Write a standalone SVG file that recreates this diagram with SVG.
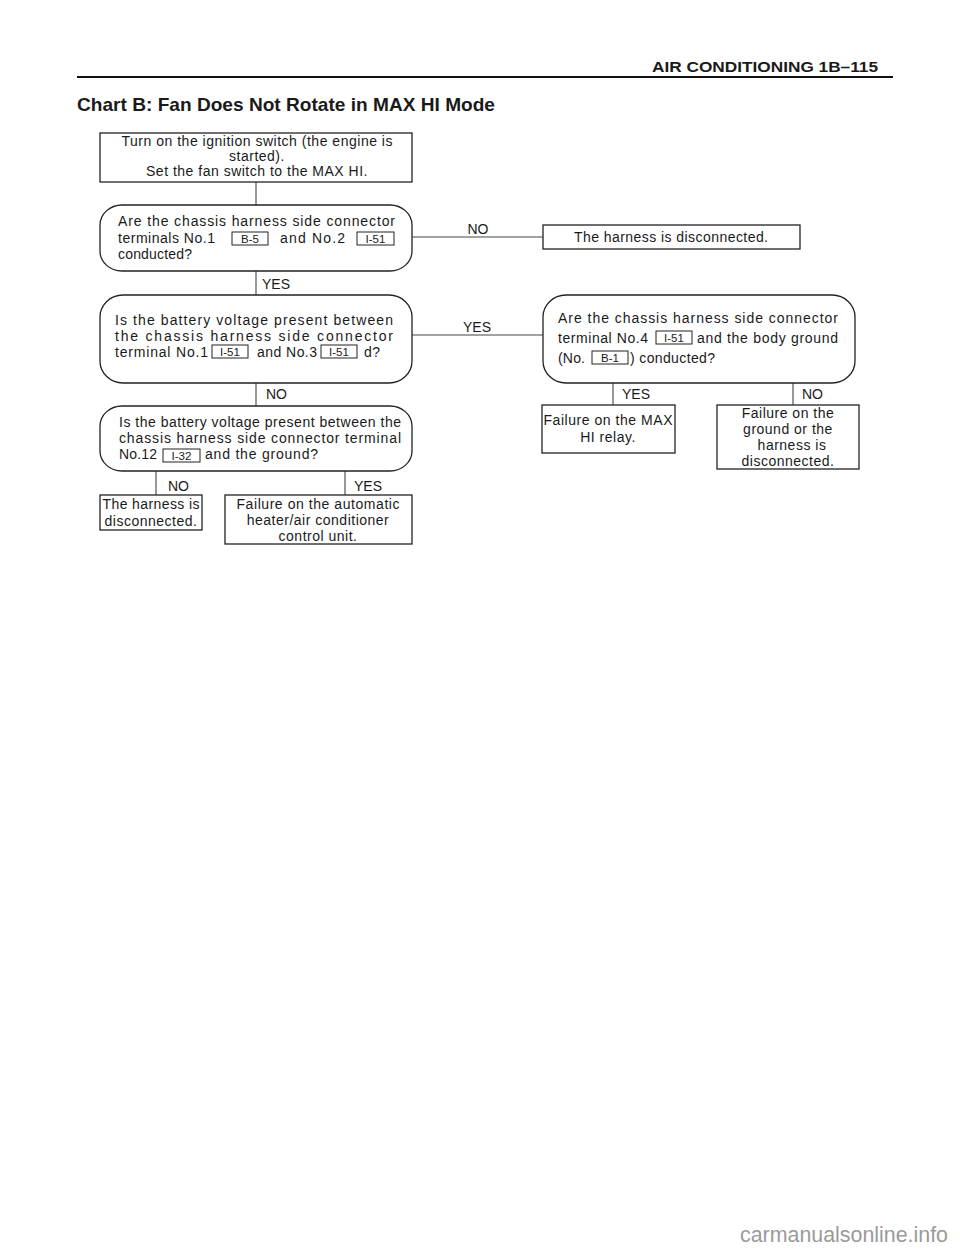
<svg xmlns="http://www.w3.org/2000/svg" width="960" height="1250" viewBox="0 0 960 1250">
<style>
text{font-family:"Liberation Sans",Arial,sans-serif;fill:#1a1a1a}
.t{font-size:14px}
.ls{letter-spacing:0.5px}
.c{text-anchor:middle}
.lbl{font-size:14px}
.k{font-size:11.5px;text-anchor:middle}
.node{fill:#fff;stroke:#222;stroke-width:1.3}
.kb{fill:none;stroke:#222;stroke-width:1}
.con line{stroke:#444;stroke-width:1.1}
</style>
<rect width="960" height="1250" fill="#fff"/>
<text x="878" y="72" font-size="14.5" font-weight="bold" text-anchor="end" textLength="226" lengthAdjust="spacingAndGlyphs">AIR CONDITIONING  1B–115</text>
<line x1="77" y1="77" x2="893" y2="77" stroke="#111" stroke-width="2"/>
<text x="77" y="111" font-size="19" font-weight="bold" textLength="418" lengthAdjust="spacingAndGlyphs">Chart B: Fan Does Not Rotate in MAX HI Mode</text>

<g id="connectors" class="con">
<line x1="256" y1="182" x2="256" y2="205"/>
<line x1="412" y1="237" x2="543" y2="237"/>
<line x1="256" y1="271" x2="256" y2="295"/>
<line x1="412" y1="335" x2="543" y2="335"/>
<line x1="256" y1="383" x2="256" y2="406"/>
<line x1="613" y1="383" x2="613" y2="405"/>
<line x1="793" y1="383" x2="793" y2="405"/>
<line x1="156" y1="471" x2="156" y2="495"/>
<line x1="345" y1="471" x2="345" y2="495"/>
<text class="lbl c" x="478" y="234">NO</text>
<text class="lbl" x="262" y="289">YES</text>
<text class="lbl c" x="477" y="332">YES</text>
<text class="lbl" x="266" y="399">NO</text>
<text class="lbl" x="622" y="399">YES</text>
<text class="lbl" x="802" y="399">NO</text>
<text class="lbl" x="168" y="491">NO</text>
<text class="lbl" x="354" y="491">YES</text>
</g>

<g id="n1">
<rect class="node" x="100" y="133" width="312" height="49"/>
<text class="t c" x="257" y="146" textLength="271" lengthAdjust="spacing">Turn on the ignition switch (the engine is</text>
<text class="t c ls" x="257" y="161">started).</text>
<text class="t c ls" x="257" y="176">Set the fan switch to the MAX HI.</text>
</g>

<g id="n2">
<rect class="node" x="100" y="205" width="312" height="66" rx="22" ry="20"/>
<text class="t" x="118" y="226" textLength="277" lengthAdjust="spacing">Are the chassis harness side connector</text>
<text class="t" x="118" y="243" textLength="97" lengthAdjust="spacing">terminals No.1</text>
<rect class="kb" x="232" y="232" width="36" height="13"/>
<text class="k" x="250" y="243">B-5</text>
<text class="t" x="280" y="243" textLength="65" lengthAdjust="spacing">and No.2</text>
<rect class="kb" x="357" y="232" width="37" height="13"/>
<text class="k" x="375.500" y="243">I-51</text>
<text class="t" x="118" y="259" textLength="74" lengthAdjust="spacing">conducted?</text>
</g>

<g id="n2no">
<rect class="node" x="543" y="225" width="257" height="24"/>
<text class="t c" x="671" y="242" textLength="194" lengthAdjust="spacing">The harness is disconnected.</text>
</g>

<g id="n3">
<rect class="node" x="100" y="295" width="312" height="88" rx="23" ry="22"/>
<text class="t" x="115" y="325" textLength="278" lengthAdjust="spacing">Is the battery voltage present between</text>
<text class="t" x="115" y="341" textLength="278" lengthAdjust="spacing">the chassis harness side connector</text>
<text class="t" x="115" y="357" textLength="93" lengthAdjust="spacing">terminal No.1</text>
<rect class="kb" x="212" y="345" width="36" height="13"/>
<text class="k" x="230" y="356">I-51</text>
<text class="t" x="257" y="357" textLength="60" lengthAdjust="spacing">and No.3</text>
<rect class="kb" x="321" y="345" width="36" height="13"/>
<text class="k" x="339" y="356">I-51</text>
<text class="t ls" x="364" y="357">d?</text>
</g>

<g id="n4">
<rect class="node" x="543" y="295" width="312" height="88" rx="23" ry="22"/>
<text class="t" x="558" y="323" textLength="280" lengthAdjust="spacing">Are the chassis harness side connector</text>
<text class="t" x="558" y="343" textLength="90" lengthAdjust="spacing">terminal No.4</text>
<rect class="kb" x="656" y="331" width="36" height="13"/>
<text class="k" x="674" y="342">I-51</text>
<text class="t" x="697" y="343" textLength="141" lengthAdjust="spacing">and the body ground</text>
<text class="t" x="558" y="363" textLength="27" lengthAdjust="spacing">(No.</text>
<rect class="kb" x="592" y="351" width="36" height="13"/>
<text class="k" x="610" y="362">B-1</text>
<text class="t" x="630" y="363" textLength="85" lengthAdjust="spacing">) conducted?</text>
</g>

<g id="n4yes">
<rect class="node" x="542" y="405" width="133" height="48"/>
<text class="t c" x="608" y="425" textLength="129" lengthAdjust="spacing">Failure on the MAX</text>
<text class="t c ls" x="608" y="442">HI relay.</text>
</g>

<g id="n4no">
<rect class="node" x="717" y="405" width="142" height="64"/>
<text class="t c ls" x="788" y="418">Failure on the</text>
<text class="t c ls" x="788" y="434">ground or the</text>
<text class="t c ls" x="792" y="450">harness is</text>
<text class="t c ls" x="788" y="466">disconnected.</text>
</g>

<g id="n5">
<rect class="node" x="100" y="406" width="312" height="65" rx="22" ry="20"/>
<text class="t" x="119" y="427" textLength="282" lengthAdjust="spacing">Is the battery voltage present between the</text>
<text class="t" x="119" y="443" textLength="282" lengthAdjust="spacing">chassis harness side connector terminal</text>
<text class="t" x="119" y="459" textLength="38" lengthAdjust="spacing">No.12</text>
<rect class="kb" x="163" y="449" width="37" height="13"/>
<text class="k" x="181.500" y="460">I-32</text>
<text class="t" x="205" y="459" textLength="113" lengthAdjust="spacing">and the ground?</text>
</g>

<g id="n5no">
<rect class="node" x="100" y="495" width="102" height="35"/>
<text class="t c" x="151" y="509" textLength="97" lengthAdjust="spacing">The harness is</text>
<text class="t c ls" x="151" y="526">disconnected.</text>
</g>

<g id="n5yes">
<rect class="node" x="225" y="495" width="187" height="49"/>
<text class="t c" x="318" y="509" textLength="163" lengthAdjust="spacing">Failure on the automatic</text>
<text class="t c ls" x="318" y="525">heater/air conditioner</text>
<text class="t c ls" x="318" y="541">control unit.</text>
</g>

<text x="948" y="1242" font-size="22" fill="#9a9a9a" style="fill:#9a9a9a" text-anchor="end" textLength="208" lengthAdjust="spacingAndGlyphs">carmanualsonline.info</text>
</svg>
